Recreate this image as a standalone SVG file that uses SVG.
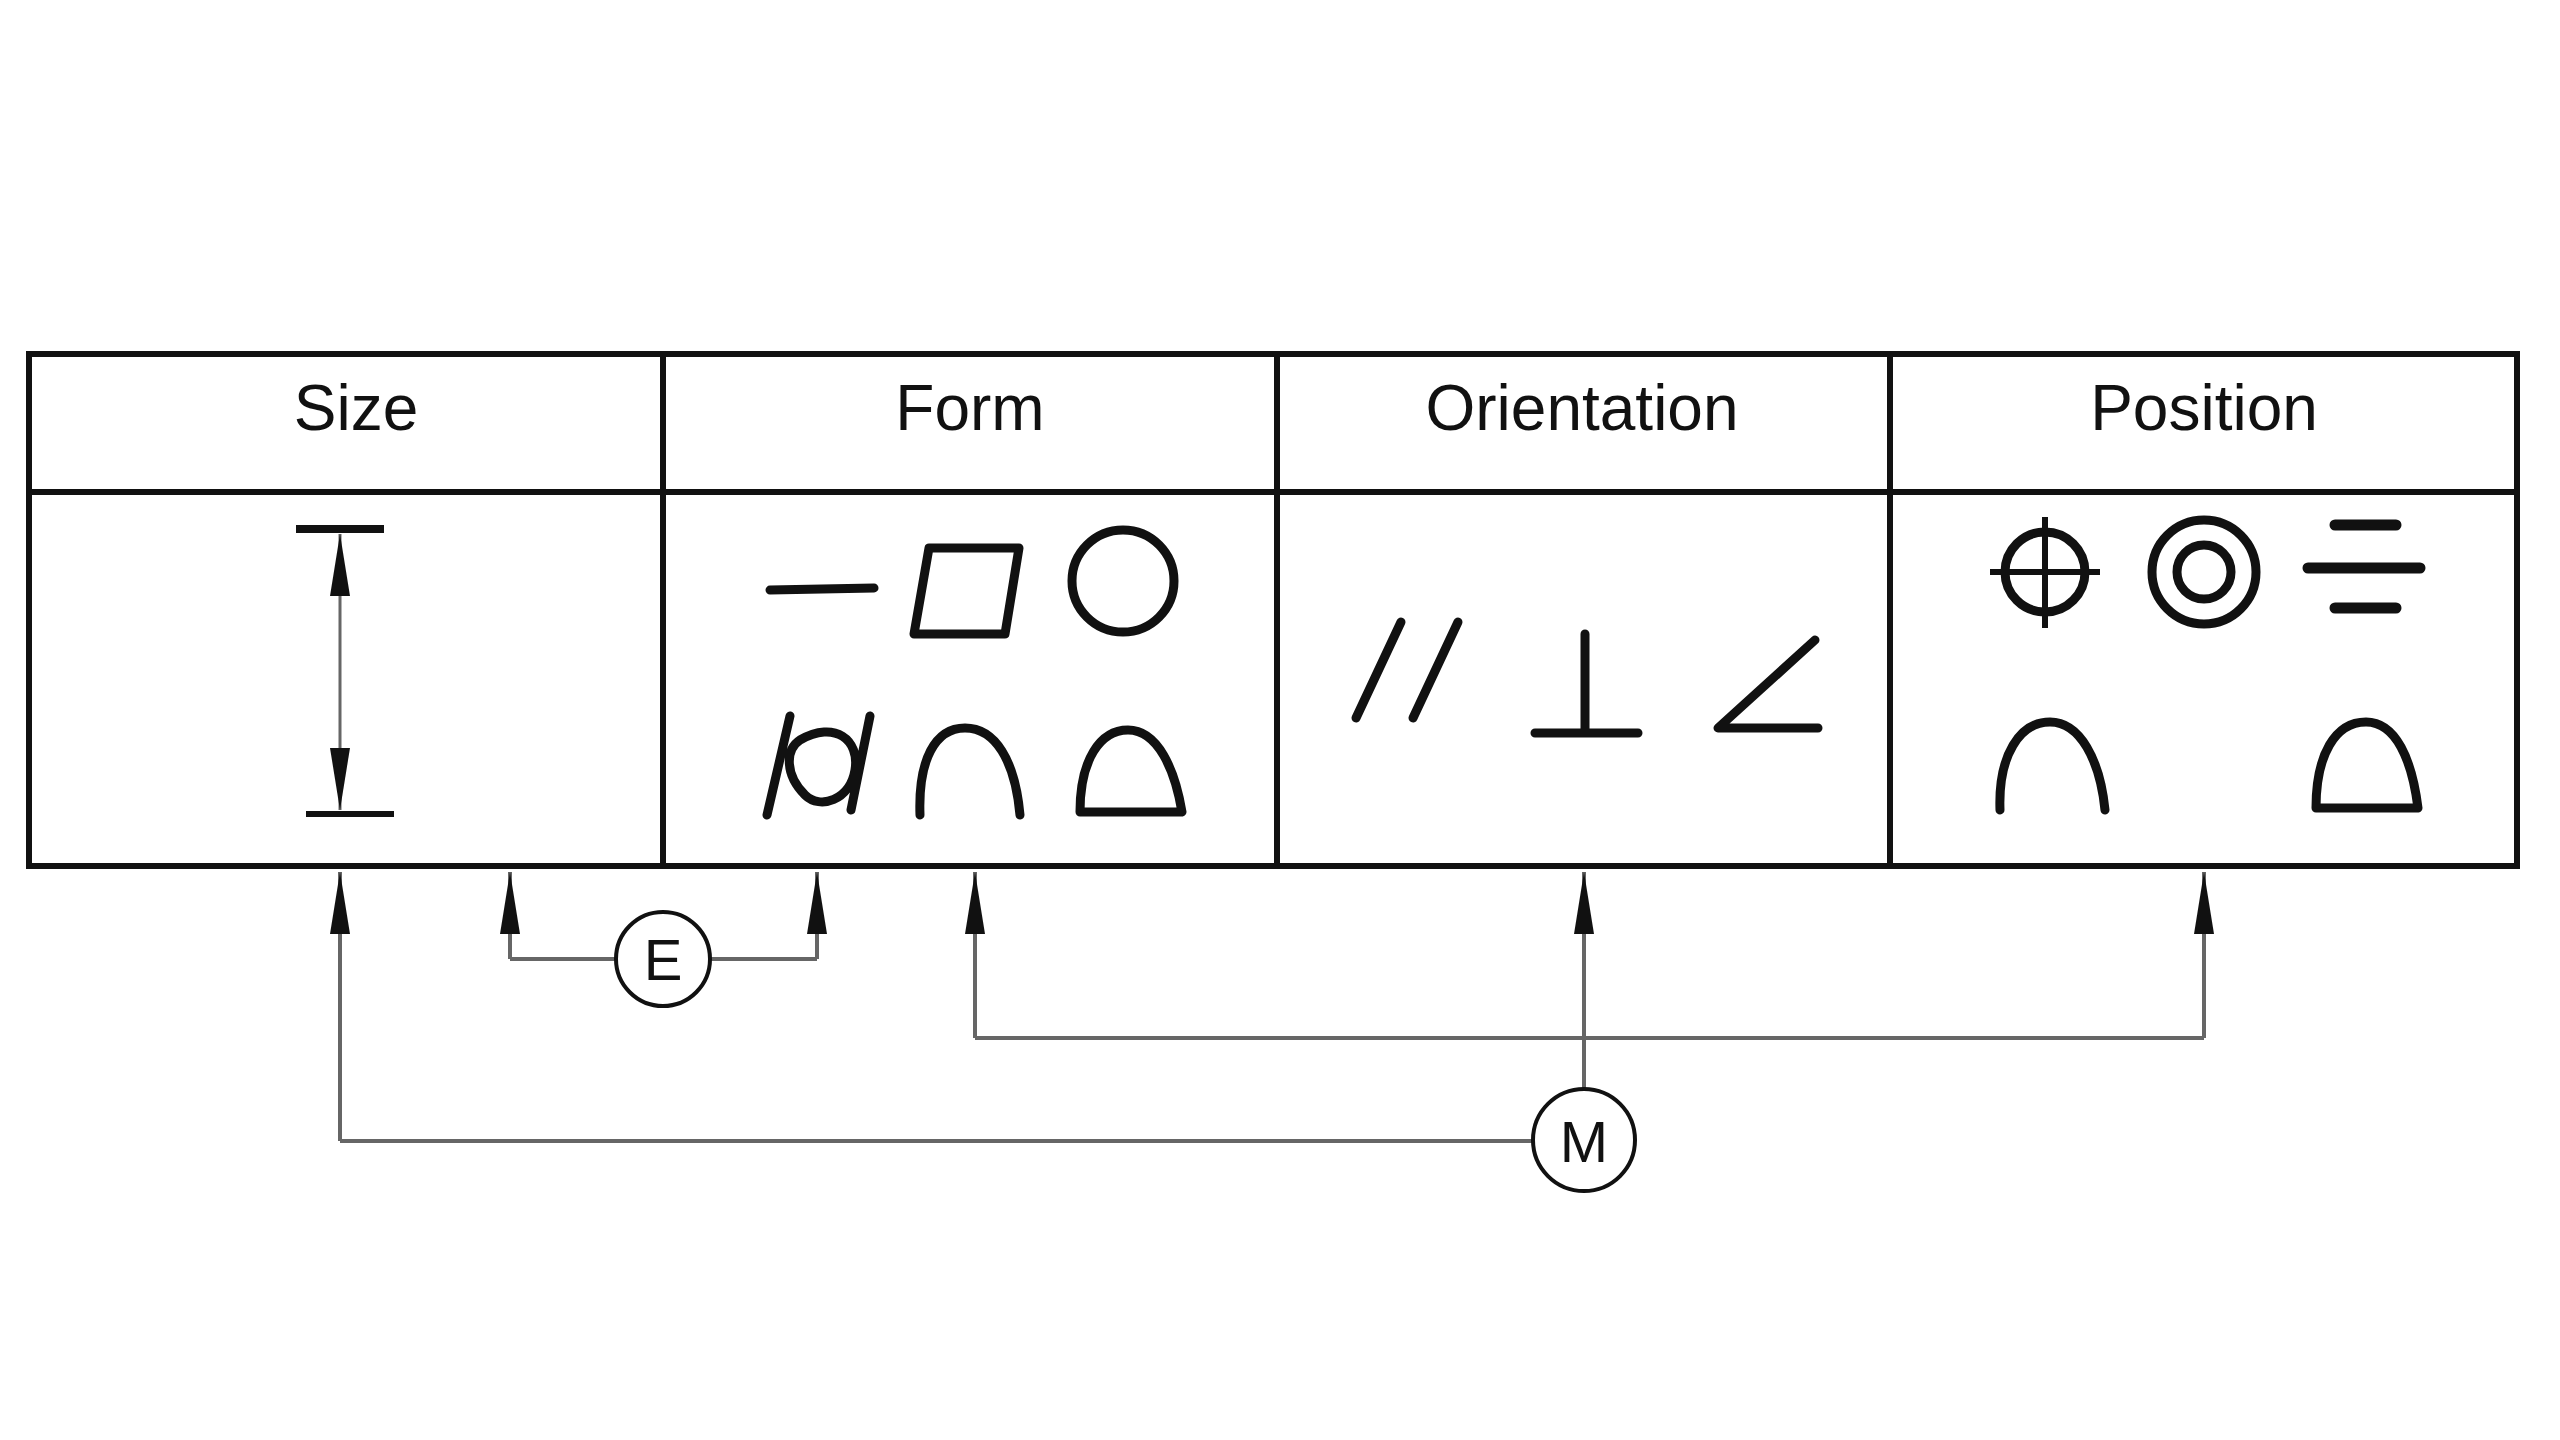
<svg xmlns="http://www.w3.org/2000/svg" width="2560" height="1440" viewBox="0 0 2560 1440">
<defs>
<marker id="ah" viewBox="0 0 62 20" refX="62" refY="10" markerWidth="62" markerHeight="20" markerUnits="userSpaceOnUse" orient="auto-start-reverse"><path d="M62,10 L0,0 L0,20 Z" fill="#111"/></marker>
<style>
.hd{font-family:"Liberation Sans",Arial,sans-serif;font-size:64px;fill:#111;text-anchor:middle}
.cl{font-family:"Liberation Sans",Arial,sans-serif;font-size:58px;fill:#111;text-anchor:middle}
.t{fill:none;stroke:#111;stroke-width:6}
.s{fill:none;stroke:#111;stroke-width:9;stroke-linecap:round;stroke-linejoin:round}
.c{fill:none;stroke:#666;stroke-width:4}
</style>
</defs>
<rect width="2560" height="1440" fill="#fff"/>
<g id="table">
<rect class="t" x="29" y="354" width="2488" height="512"/>
<line class="t" x1="29" y1="492" x2="2517" y2="492"/>
<line class="t" x1="663" y1="354" x2="663" y2="866"/>
<line class="t" x1="1277" y1="354" x2="1277" y2="866"/>
<line class="t" x1="1890" y1="354" x2="1890" y2="866"/>
</g>
<g id="size"><text class="hd" x="356" y="430">Size</text>
<line x1="296" y1="529" x2="384" y2="529" stroke="#111" stroke-width="8"/>
<line x1="306" y1="814" x2="394" y2="814" stroke="#111" stroke-width="6"/>
<line x1="340" y1="534" x2="340" y2="810" stroke="#666" stroke-width="3" marker-start="url(#ah)" marker-end="url(#ah)"/>
</g>
<g id="form"><text class="hd" x="970" y="430">Form</text>
<line class="s" x1="770" y1="590" x2="874" y2="588"/>
<path class="s" d="M929,548 L1019,548 L1005,634 L914,634 Z"/>
<circle class="s" cx="1123" cy="581" r="51"/>
<path class="s" d="M790,716 L767,815 M870,716 L851,810 M800,740 C835,720 860,740 855,770 C850,800 820,810 805,795 C785,775 785,750 800,740 Z"/>
<path class="s" d="M920,815 C918,760 935,728 965,728 C995,728 1015,760 1020,815"/>
<path class="s" d="M1080,812 C1080,760 1100,730 1128,730 C1158,730 1175,770 1182,812 Z"/>
</g>
<g id="orientation"><text class="hd" x="1582" y="430">Orientation</text>
<path class="s" d="M1401,622 L1356,718 M1458,622 L1413,718" stroke-width="7"/>
<path class="s" d="M1585,634 L1585,733 M1535,733 L1638,733"/>
<path class="s" d="M1815,640 L1718,728 L1818,728"/>
</g>
<g id="position"><text class="hd" x="2204" y="430">Position</text>
<circle class="s" cx="2045" cy="572" r="40" stroke-width="8"/>
<path d="M1990,572 L2100,572 M2045,517 L2045,628" stroke="#111" stroke-width="6"/>
<circle class="s" cx="2204" cy="572" r="52"/>
<circle class="s" cx="2204" cy="572" r="27"/>
<path d="M2335,525 L2396,525 M2308,568 L2420,568 M2335,608 L2396,608" stroke="#111" stroke-width="11" stroke-linecap="round"/>
<path class="s" d="M2000,810 C1998,755 2020,722 2050,722 C2080,722 2100,760 2105,810"/>
<path class="s" d="M2316,808 C2316,755 2335,722 2366,722 C2396,722 2412,760 2418,808 Z" stroke-width="11"/>
</g>
<g id="connectors">
<path class="c" d="M340,1141 L340,872" marker-end="url(#ah)"/>
<path class="c" d="M340,1141 L1533,1141"/>
<path class="c" d="M510,959 L510,872" marker-end="url(#ah)"/>
<path class="c" d="M817,959 L817,872" marker-end="url(#ah)"/>
<path class="c" d="M510,959 L616,959 M710,959 L817,959"/>
<path class="c" d="M975,1038 L975,872" marker-end="url(#ah)"/>
<path class="c" d="M2204,1038 L2204,872" marker-end="url(#ah)"/>
<path class="c" d="M975,1038 L2204,1038"/>
<path class="c" d="M1584,1089 L1584,872" marker-end="url(#ah)"/>
</g>
<g id="E"><circle cx="663" cy="959" r="47" fill="#fff" stroke="#111" stroke-width="4"/><text class="cl" x="663" y="980">E</text></g>
<g id="M"><circle cx="1584" cy="1140" r="51" fill="#fff" stroke="#111" stroke-width="4"/><text class="cl" x="1584" y="1162">M</text></g>
</svg>
